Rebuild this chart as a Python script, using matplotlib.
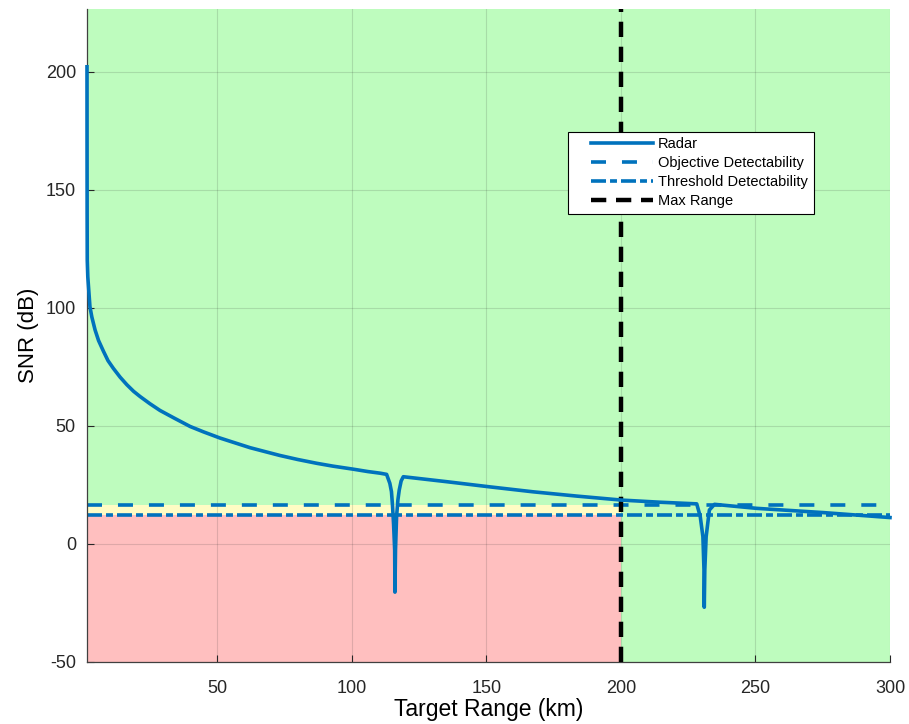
import numpy as np
import matplotlib
matplotlib.use("Agg")
import matplotlib.pyplot as plt
from matplotlib.legend_handler import HandlerLine2D

plt.rcParams['font.family'] = ['Liberation Sans', 'DejaVu Sans']
plt.rcParams['lines.scale_dashes'] = False
plt.rcParams['axes.unicode_minus'] = False

# SNR curve (range in km, SNR in dB)
rng_km = [1.7, 1.72, 1.75, 1.8, 2.0, 2.8, 3.5, 4.7, 6.0, 7.8, 9.5, 11.5,
          14.0, 16.5, 19.0, 21.4, 25.0, 28.8, 34.0, 40.0, 45.0, 51.1, 56.0,
          62.3, 68.0, 73.4, 80.0, 87.0, 93.0, 100.6, 106.0, 110.6, 113.0,
          114.2, 114.8, 115.2, 115.6, 116.0, 116.1, 116.3, 116.7, 117.2,
          117.7, 118.4, 119.2, 135.3, 151.4, 167.5, 183.6, 200.3, 214.5,
          228.2, 229.5, 230.5, 230.9, 231.0, 231.2, 231.7, 232.9, 234.8,
          250.5, 275.3, 300.0]
snr_db = [202, 170, 140, 120, 113, 100.3, 96.0, 90.5, 86.0, 81.5, 77.5, 74.2,
          70.5, 67.3, 64.5, 62.3, 59.3, 56.4, 53.2, 49.6, 47.3, 44.7, 42.9,
          40.6, 38.9, 37.3, 35.6, 34.0, 32.8, 31.5, 30.5, 29.8, 29.3,
          25.5, 22.0, 16.0, 8.0, -2.8, -20.6, -2.8, 11.4, 18.5,
          22.7, 26.5, 28.3, 26.2, 24.0, 21.9, 20.1, 18.4, 17.5,
          16.8, 11.5, 2.9, -11.2, -27.0, -11.2, 2.9, 14.2, 16.6,
          14.9, 13.1, 11.0]

objective_db = 16.3
threshold_db = 12.1
max_range_km = 200
x_lim = (1.7, 300)
y_lim = (-50, 226.5)
x_ticks = [50, 100, 150, 200, 250, 300]
y_ticks = [-50, 0, 50, 100, 150, 200]

blue = '#0072BD'
fig = plt.figure(figsize=(9.09, 7.24), dpi=100)
ax = fig.add_axes([0.0957, 0.0863, 0.8834, 0.9013])
ax.set_facecolor('#BEFCBE')

# detectability regions
ax.fill_between([x_lim[0], max_range_km], y_lim[0], threshold_db,
                color='#FFBFBF', lw=0, zorder=0.2)
ax.fill_between([x_lim[0], max_range_km], threshold_db, objective_db,
                color='#FFFCC4', lw=0, zorder=0.2)

l1, = ax.plot(rng_km, snr_db, color=blue, lw=2.6, label='Radar',
              clip_on=False, zorder=3, solid_joinstyle='round')
l2 = ax.axhline(objective_db, color=blue, lw=2.6, dashes=(10.8, 11.5),
                label='Objective Detectability', zorder=2.5)
l3 = ax.axhline(threshold_db, color=blue, lw=2.6, dashes=(10.8, 2.9, 5, 2.9),
                label='Threshold Detectability', zorder=2.5)
l4 = ax.axvline(max_range_km, color='black', lw=3.2, dashes=(11, 7),
                label='Max Range', zorder=2.6)

ax.set_xlim(x_lim)
ax.set_ylim(y_lim)
ax.set_xticks(x_ticks)
ax.set_yticks(y_ticks)
ax.set_axisbelow(True)
ax.grid(True, color='#262626', alpha=0.15, lw=0.8)
ax.tick_params(direction='in', length=5, width=0.8, colors='#262626',
               labelsize=13)
ax.tick_params(axis='x', pad=13)
ax.tick_params(axis='y', pad=8)
for s in ['top', 'right']:
    ax.spines[s].set_visible(False)
for s in ['left', 'bottom']:
    ax.spines[s].set_color('#404040')
    ax.spines[s].set_linewidth(0.9)

ax.set_xlabel('Target Range (km)', fontsize=16.5, color='#000000', labelpad=1)
ax.set_ylabel('SNR (dB)', fontsize=16, color='#000000', labelpad=5)

hmap = {h: HandlerLine2D(xpad=1.17) for h in [l1, l2, l3, l4]}
leg = ax.legend(handles=[l1, l2, l3, l4], handler_map=hmap,
                loc='upper left', bbox_to_anchor=(0.599, 0.812), fontsize=10.5,
                fancybox=False, framealpha=1, edgecolor='black',
                handlelength=5.42, handletextpad=0.34, borderpad=0.4,
                labelspacing=0.33, borderaxespad=0)
leg.get_frame().set_linewidth(0.8)

fig.savefig('out.png', dpi=100)
